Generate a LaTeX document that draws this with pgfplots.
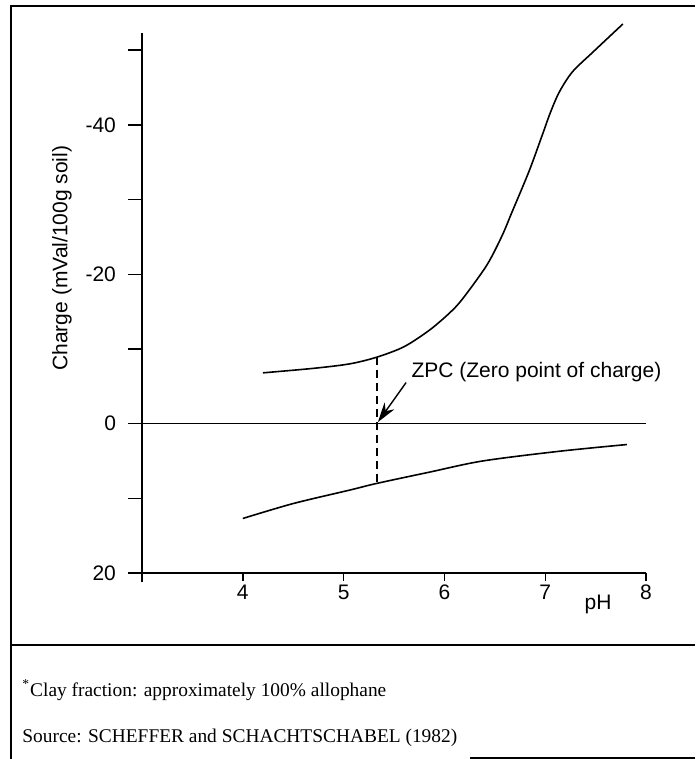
\documentclass[border=0pt]{standalone}
\usepackage{fontspec}
\setmainfont{Liberation Serif}
\setsansfont{Liberation Sans}
\usepackage{pgfplots}
\pgfplotsset{compat=1.18}
\usetikzlibrary{arrows.meta}

\newcommand{\lab}{\sffamily\fontsize{10.5}{12}\selectfont}

\begin{document}
\begin{tikzpicture}
\useasboundingbox (-71pt,-93pt) rectangle (276.5pt,286.5pt);
\begin{axis}[
  scale only axis, width=252pt, height=270pt,
  xmin=3, xmax=8, ymin=-52.3, ymax=20, y dir=reverse,
  axis x line=bottom, axis y line=left,
  axis line style={-, line width=0.7pt},
  tick align=outside, major tick length=7pt,
  tick style={black, line width=0.7pt},
  xtick style={/pgfplots/major tick length=4pt},
  xtick={4,5,6,7,8},
  ytick={-50,-40,-30,-20,-10,0,10,20},
  yticklabels={,-40,,-20,,0,,20},
  /pgf/number format/assume math mode=true,
  tick label style={font=\lab},
  yticklabel style={xshift=-2.5pt},
  xticklabel style={yshift=4.5pt},
  label style={font=\lab},
  xlabel={pH},
  xlabel style={at={(axis description cs:0.905,-0.059)}, anchor=center},
  ylabel={Charge (mVal/100g soil)},
  ylabel style={at={(axis description cs:-0.159,0.583)}, anchor=center},
  clip=false,
]
% upper branch
\addplot[black, line width=0.8pt, smooth] coordinates {
  (4.2,-6.8) (4.7,-7.4) (5.06,-8.0) (5.33,-8.9) (5.6,-10.3) (5.85,-12.5)
  (6.05,-14.8) (6.18,-16.7) (6.42,-21.2) (6.57,-25.1) (6.67,-28.3)
  (6.84,-33.8) (6.97,-38.6) (7.05,-41.6) (7.14,-44.4) (7.27,-47.1)
  (7.47,-49.7) (7.77,-53.5)
};
% lower branch
\addplot[black, line width=0.8pt, smooth] coordinates {
  (4.0,12.7) (4.5,10.7) (5.06,8.9) (5.33,8.0) (5.85,6.5) (6.38,5.0)
  (7.14,3.7) (7.81,2.8)
};
% zero line
\addplot[black, line width=0.6pt] coordinates {(3,0) (8,0)};
% ZPC marker
\addplot[black, line width=0.7pt, dash pattern=on 4pt off 2.5pt] coordinates {(5.33,-8.9) (5.33,8.0)};
\draw[black, line width=0.7pt, -{Stealth[length=10pt,width=6pt]}] (axis cs:5.62,-5.5) -- (axis cs:5.34,-0.2);
\node[anchor=west, font=\lab, inner sep=0pt] at (axis cs:5.67,-6.9) {ZPC (Zero point of charge)};
\draw[black, line width=0.7pt] (axis cs:3,20) -- (axis cs:3,21.2);
\end{axis}
% frame
\draw[black, line width=0.9pt] (-65.5pt,-93pt) -- (-65.5pt,283.5pt) -- (276.5pt,283.5pt);
\draw[black, line width=0.9pt] (-65.5pt,-36pt) -- (276.5pt,-36pt);
\draw[black, line width=0.9pt] (164pt,-92.5pt) -- (276.5pt,-92.5pt);
% notes
\node[anchor=base west, inner sep=0pt, font=\fontsize{9.7}{11}\selectfont] at (-60pt,-61.5pt)
  {\textsuperscript{*}Clay fraction: approximately 100\% allophane};
\node[anchor=base west, inner sep=0pt, font=\fontsize{9.7}{11}\selectfont] at (-60pt,-84.5pt)
  {Source: SCHEFFER and SCHACHTSCHABEL (1982)};
\end{tikzpicture}
\end{document}
